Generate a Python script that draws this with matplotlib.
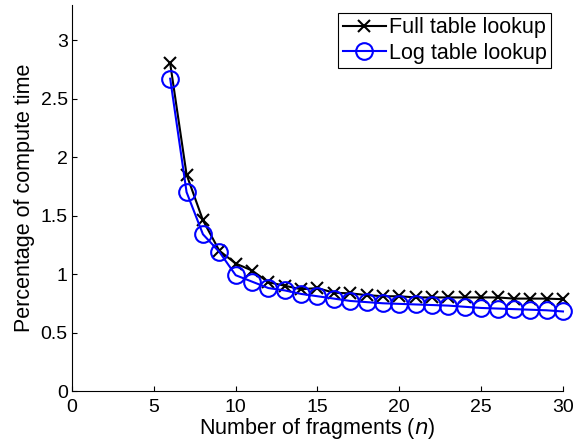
import numpy as np
import matplotlib
matplotlib.use("Agg")
import matplotlib.pyplot as plt

plt.rcParams['font.family'] = ['Liberation Sans', 'DejaVu Sans']

n = np.arange(6, 31)
full_lookup = [2.80, 1.85, 1.46, 1.20, 1.09, 1.03, 0.93, 0.90, 0.87, 0.88,
               0.84, 0.835, 0.82, 0.81, 0.81, 0.80, 0.80, 0.80, 0.80, 0.80,
               0.80, 0.79, 0.79, 0.79, 0.785]
log_lookup = [2.67, 1.70, 1.34, 1.19, 0.99, 0.935, 0.88, 0.86, 0.83, 0.81,
              0.79, 0.77, 0.76, 0.75, 0.745, 0.74, 0.735, 0.73, 0.72, 0.71,
              0.705, 0.70, 0.695, 0.69, 0.68]
xticks = [0, 5, 10, 15, 20, 25, 30]
yticks = [0, 0.5, 1, 1.5, 2, 2.5, 3]

fig = plt.figure(figsize=(5.77, 4.46), dpi=100)
ax = fig.add_axes([0.1248, 0.1233, 0.8509, 0.8655])

ax.plot(n, full_lookup, 'k-x', lw=1.5, ms=9, mew=1.5, clip_on=False,
        label='Full table lookup')
ax.plot(n, log_lookup, '-o', color='#0000ff', lw=1.5, ms=12, mew=1.5,
        mfc='none', clip_on=False, label='Log table lookup')

ax.set_xlim(0, 30)
ax.set_ylim(0, 3.3)
ax.set_xticks(xticks)
ax.set_xticklabels([str(t) for t in xticks])
ax.set_yticks(yticks)
ax.set_yticklabels(['0', '0.5', '1', '1.5', '2', '2.5', '3'])
ax.spines['top'].set_visible(False)
ax.spines['right'].set_visible(False)
ax.tick_params(direction='in', labelsize=14, length=3.5)
ax.tick_params(axis='x', pad=6)
ax.tick_params(axis='y', pad=3)
ax.set_xlabel('Number of fragments ($n$)', fontsize=15.5, labelpad=0)
ax.set_ylabel('Percentage of compute time', fontsize=15.5, labelpad=4)

leg = ax.legend(loc='upper right', fontsize=15.5, fancybox=False, framealpha=1,
                edgecolor='black', borderpad=0.2, handlelength=2.0,
                handletextpad=0.15, labelspacing=0.2, borderaxespad=0,
                bbox_to_anchor=(551 / 577, 1 - 13 / 446),
                bbox_transform=fig.transFigure)
leg.get_frame().set_linewidth(0.8)

fig.savefig('out.png', dpi=100)
